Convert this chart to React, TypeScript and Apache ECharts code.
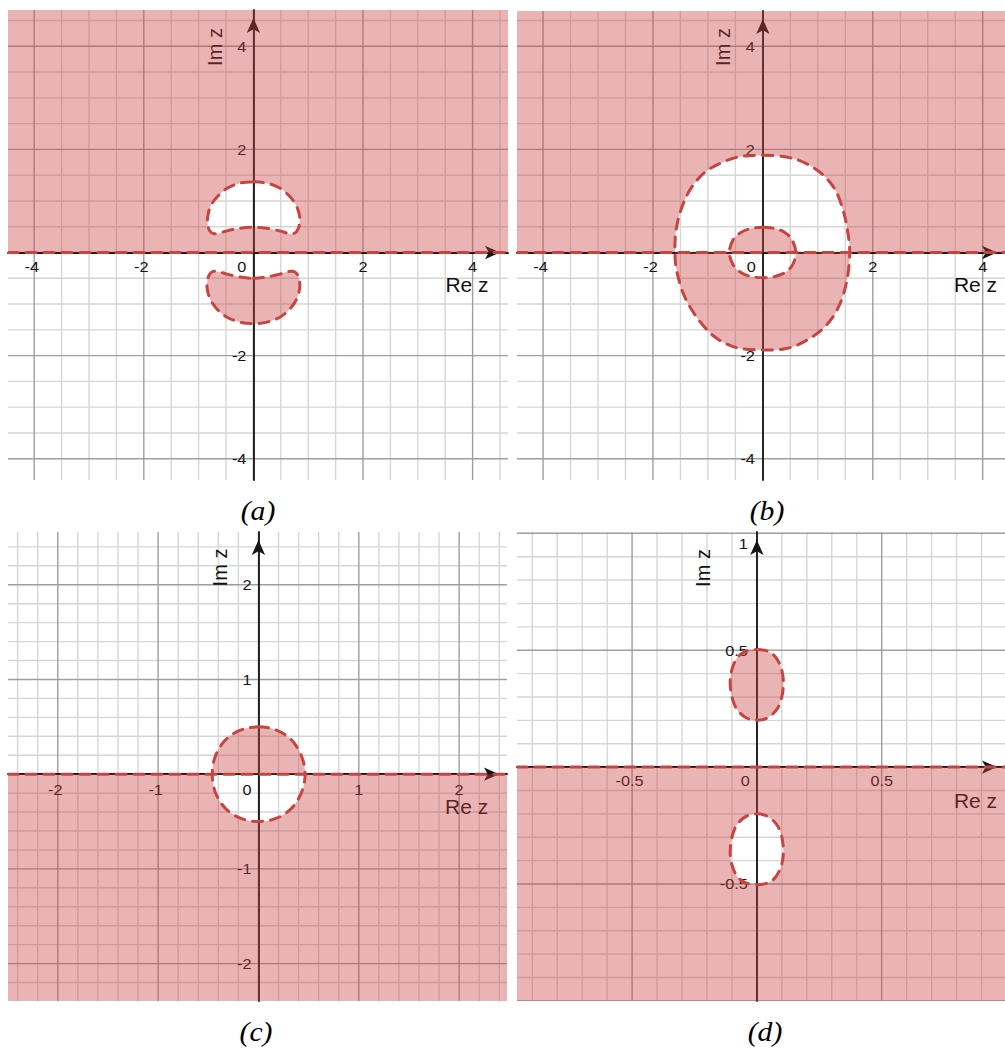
import React, { useEffect, useRef } from 'react';
import * as echarts from 'echarts';

// ---------- axis ranges ----------
const X_RANGE_A = [-4.478, 4.646];
const Y_RANGE_A = [-4.413, 4.704];
const X_RANGE_B = [-4.474, 4.406];
const Y_RANGE_B = [-4.413, 4.685];
const X_RANGE_C = [-2.496, 2.477];
const Y_RANGE_C = [-2.395, 2.557];
const X_RANGE_D = [-0.961, 0.994];
const Y_RANGE_D = [-1.0004, 1.0056];

// ---------- tick labels ----------
const X_TICKS_AB = [-4, -2, 0, 2, 4];
const Y_TICKS_AB = [-4, -2, 2, 4];
const X_TICKS_C = [-2, -1, 0, 1, 2];
const Y_TICKS_C = [-2, -1, 1, 2];
const X_TICKS_D = [-0.5, 0, 0.5];
const Y_TICKS_D = [-0.5, 0.5, 1];

// ---------- grid lines ----------
const MAJOR_AB = [-4, -2, 0, 2, 4];
const MINOR_AB = [-4.5, -3.5, -3, -2.5, -1.5, -1, -0.5, 0.5, 1, 1.5, 2.5, 3, 3.5, 4.5];
const MAJOR_C = [-2, -1, 0, 1, 2];
const MINOR_C = [-2.4, -2.2, -1.8, -1.6, -1.4, -1.2, -0.8, -0.6, -0.4, -0.2, 0.2, 0.4, 0.6, 0.8, 1.2, 1.4, 1.6, 1.8, 2.2, 2.4];
const MAJOR_D = [-1, -0.5, 0, 0.5, 1];
const MINOR_D = [-0.9, -0.8, -0.7, -0.6, -0.4, -0.3, -0.2, -0.1, 0.1, 0.2, 0.3, 0.4, 0.6, 0.7, 0.8, 0.9];

// ---------- boundary curves (Re z, Im z) ----------
const A_UPPER_HOLE = [
  [0, 1.37], [0.25, 1.345], [0.49, 1.245], [0.67, 1.08], [0.79, 0.89], [0.845, 0.69], [0.835, 0.52],
  [0.79, 0.41], [0.72, 0.365], [0.62, 0.375], [0.48, 0.42], [0.24, 0.47], [0, 0.49], [-0.24, 0.47],
  [-0.48, 0.42], [-0.62, 0.375], [-0.72, 0.365], [-0.79, 0.41], [-0.83, 0.52], [-0.835, 0.69],
  [-0.78, 0.9], [-0.66, 1.08], [-0.48, 1.245], [-0.25, 1.345],
];
const A_LOWER_LOBE = [
  [0, -0.5], [0.24, -0.475], [0.48, -0.42], [0.62, -0.375], [0.72, -0.365], [0.79, -0.41], [0.835, -0.52],
  [0.845, -0.69], [0.79, -0.9], [0.67, -1.09], [0.49, -1.25], [0.25, -1.35], [0, -1.38], [-0.25, -1.35],
  [-0.49, -1.25], [-0.67, -1.09], [-0.79, -0.9], [-0.845, -0.69], [-0.835, -0.52], [-0.79, -0.41],
  [-0.72, -0.365], [-0.62, -0.375], [-0.48, -0.42], [-0.24, -0.475],
];
const B_OUTER = [
  [0, 1.885], [0.46, 1.845], [0.8, 1.72], [1.1, 1.5], [1.32, 1.21], [1.46, 0.82], [1.54, 0.43], [1.58, 0],
  [1.53, -0.54], [1.38, -1.05], [1.13, -1.44], [0.8, -1.7], [0.44, -1.86], [0, -1.89], [-0.5, -1.84],
  [-0.92, -1.6], [-1.24, -1.2], [-1.45, -0.79], [-1.57, -0.34], [-1.6, 0.01], [-1.58, 0.43],
  [-1.48, 0.86], [-1.3, 1.26], [-1.0, 1.6], [-0.5, 1.84],
];
const B_INNER = [
  [0, 0.49], [0.22, 0.465], [0.4, 0.39], [0.53, 0.25], [0.6, 0], [0.54, -0.24], [0.4, -0.39], [0.22, -0.465],
  [0, -0.49], [-0.22, -0.465], [-0.4, -0.39], [-0.54, -0.24], [-0.61, 0], [-0.54, 0.25], [-0.4, 0.39], [-0.22, 0.465],
];
const C_CIRCLE = [
  [0, 0.5], [0.18, 0.465], [0.33, 0.36], [0.43, 0.19], [0.465, 0], [0.43, -0.19], [0.33, -0.36], [0.18, -0.465],
  [0, -0.5], [-0.18, -0.465], [-0.33, -0.36], [-0.43, -0.19], [-0.46, 0], [-0.43, 0.19], [-0.33, 0.36], [-0.18, 0.465],
];
const D_UPPER_LOBE = [
  [0, 0.503], [0.045, 0.495], [0.075, 0.47], [0.097, 0.425], [0.106, 0.37], [0.101, 0.305], [0.082, 0.25],
  [0.045, 0.212], [0, 0.2], [-0.045, 0.212], [-0.082, 0.25], [-0.101, 0.305], [-0.107, 0.37], [-0.098, 0.425],
  [-0.077, 0.47], [-0.045, 0.495],
];
const D_LOWER_HOLE = [
  [0, -0.2], [0.045, -0.212], [0.082, -0.25], [0.101, -0.305], [0.106, -0.37], [0.097, -0.425], [0.075, -0.47],
  [0.045, -0.495], [0, -0.503], [-0.045, -0.495], [-0.077, -0.47], [-0.098, -0.425], [-0.107, -0.37],
  [-0.101, -0.305], [-0.082, -0.25], [-0.045, -0.212],
];

// shaded half plane: 1 = upper, -1 = lower
const HALF_A = 1;
const HALF_B = 1;
const HALF_C = -1;
const HALF_D = -1;

// ---------- styles ----------
const FONT = "'Liberation Sans', Arial, sans-serif";
const SERIF = "'Liberation Serif', 'Times New Roman', serif";
const FILL = 'rgba(199,68,64,0.4)';
const RED = '#c74440';
const AXIS = '#151515';
const LABEL = '#141414';
const MAJOR_COLOR = '#9e9e9e';
const MINOR_COLOR = '#d6d6d6';

type Panel = {
  rect: any; xr: number[]; yr: number[]; xt: number[]; yt: number[];
  major: number[]; minor: number[]; half: number; rings: [number[][], number][];
  re: number[]; im: number[]; cap: [string, number, number]; xMargin: number; yMargin: number;
};

const PANELS: Panel[] = [
  { rect: { left: 8, top: 10, width: 500, height: 470 }, xr: X_RANGE_A, yr: Y_RANGE_A, xt: X_TICKS_AB, yt: Y_TICKS_AB,
    major: MAJOR_AB, minor: MINOR_AB, half: HALF_A, rings: [[A_UPPER_HOLE, -1], [A_LOWER_LOBE, 1]],
    re: [467, 285], im: [215, 47], cap: ['(a)', 258, 510.5], xMargin: 6, yMargin: 7 },
  { rect: { left: 517, top: 11, width: 488, height: 469 }, xr: X_RANGE_B, yr: Y_RANGE_B, xt: X_TICKS_AB, yt: Y_TICKS_AB,
    major: MAJOR_AB, minor: MINOR_AB, half: HALF_B, rings: [[B_OUTER, -1], [B_INNER, 1]],
    re: [975.5, 285], im: [723.3, 47], cap: ['(b)', 767, 510.5], xMargin: 6, yMargin: 8 },
  { rect: { left: 8, top: 532, width: 499, height: 469 }, xr: X_RANGE_C, yr: Y_RANGE_C, xt: X_TICKS_C, yt: Y_TICKS_C,
    major: MAJOR_C, minor: MINOR_C, half: HALF_C, rings: [[C_CIRCLE, -1]],
    re: [466.7, 807], im: [220.3, 567.5], cap: ['(c)', 256, 1031], xMargin: 7, yMargin: 7 },
  { rect: { left: 517, top: 532, width: 488, height: 469 }, xr: X_RANGE_D, yr: Y_RANGE_D, xt: X_TICKS_D, yt: Y_TICKS_D,
    major: MAJOR_D, minor: MINOR_D, half: HALF_D, rings: [[D_UPPER_LOBE, 1], [D_LOWER_HOLE, -1]],
    re: [975.5, 800.3], im: [703.3, 568], cap: ['(d)', 765, 1031], xMargin: 6, yMargin: 9 },
];

// ---------- geometry helpers ----------
const fmt = (p: number[]) => p[0].toFixed(2) + ',' + p[1].toFixed(2);

function signedArea(px: number[][]): number {
  let s = 0;
  for (let i = 0; i < px.length; i++) {
    const a = px[i], b = px[(i + 1) % px.length];
    s += a[0] * b[1] - b[0] * a[1];
  }
  return s / 2;
}
function orient(px: number[][], sign: number): number[][] {
  return Math.sign(signedArea(px)) === sign ? px : px.slice().reverse();
}
function polyPath(px: number[][]): string {
  return 'M' + px.map(fmt).join(' L') + ' Z';
}
function smoothPath(px: number[][]): string {
  const n = px.length;
  let d = 'M' + fmt(px[0]);
  for (let i = 0; i < n; i++) {
    const p0 = px[(i - 1 + n) % n], p1 = px[i], p2 = px[(i + 1) % n], p3 = px[(i + 2) % n];
    const c1 = [p1[0] + (p2[0] - p0[0]) / 6, p1[1] + (p2[1] - p0[1]) / 6];
    const c2 = [p2[0] - (p3[0] - p1[0]) / 6, p2[1] - (p3[1] - p1[1]) / 6];
    d += ' C' + fmt(c1) + ' ' + fmt(c2) + ' ' + fmt(p2);
  }
  return d + ' Z';
}

const inside = (v: number, r: number[]) => v >= r[0] && v <= r[1];

// grid lines (below the shading)
function gridRender(p: Panel) {
  return (_params: any, api: any) => {
    const [x0, x1] = p.xr, [y0, y1] = p.yr;
    const children: any[] = [];
    const add = (vals: number[], color: string) => {
      vals.forEach((v) => {
        if (inside(v, p.xr)) {
          const a = api.coord([v, y0]), b = api.coord([v, y1]);
          children.push({ type: 'line', shape: { x1: a[0], y1: a[1], x2: b[0], y2: b[1] }, style: { stroke: color, lineWidth: 1.4 } });
        }
        if (inside(v, p.yr)) {
          const c = api.coord([x0, v]), d = api.coord([x1, v]);
          children.push({ type: 'line', shape: { x1: c[0], y1: c[1], x2: d[0], y2: d[1] }, style: { stroke: color, lineWidth: 1.4 } });
        }
      });
    };
    add(p.minor, MINOR_COLOR);
    add(p.major, MAJOR_COLOR);
    return { type: 'group', children };
  };
}

// shaded region with holes (nonzero winding) + dashed red boundaries
function regionRender(p: Panel) {
  return (_params: any, api: any) => {
    const [x0, x1] = p.xr, [y0, y1] = p.yr;
    const toPx = (q: number[]) => api.coord(q);
    const rect = p.half > 0
      ? [[x0 - 1, 0], [x1 + 1, 0], [x1 + 1, y1 + 1], [x0 - 1, y1 + 1]]
      : [[x0 - 1, y0 - 1], [x1 + 1, y0 - 1], [x1 + 1, 0], [x0 - 1, 0]];
    let d = polyPath(orient(rect.map(toPx), 1));
    p.rings.forEach(([pts, sign]) => { d += ' ' + smoothPath(orient(pts.map(toPx), sign)); });
    const dash = { stroke: RED, lineWidth: 3, lineDash: [10, 8], lineCap: 'round', fill: 'none' };
    const children: any[] = [{ type: 'path', shape: { pathData: d }, style: { fill: FILL } }];
    p.rings.forEach(([pts]) => {
      children.push({ type: 'path', shape: { pathData: smoothPath(pts.map(toPx)) }, style: { ...dash } });
    });
    const a = api.coord([x0, 0]), b = api.coord([x1, 0]);
    children.push({ type: 'line', shape: { x1: a[0], y1: a[1], x2: b[0], y2: b[1] }, style: { ...dash } });
    return { type: 'group', children };
  };
}

function axisOpt(p: Panel, i: number, isX: boolean) {
  const r = isX ? p.xr : p.yr;
  return {
    gridIndex: i, type: 'value', min: r[0], max: r[1], z: 2,
    axisLine: { onZero: true, lineStyle: { color: AXIS, width: 1.8 }, symbol: ['none', 'arrow'], symbolSize: [10, 15], symbolOffset: [0, -8] },
    axisTick: { show: false }, splitLine: { show: false }, minorSplitLine: { show: false },
    axisLabel: { show: false },
  };
}

function txt(x: number, y: number, text: string, size: number, family: string, align: string, vAlign: string, extra: any = {}, styleExtra: any = {}) {
  return {
    type: 'text', x, y, z: 2, ...extra,
    style: { text, fontSize: size, fontFamily: family, fill: '#111', align, verticalAlign: vAlign, textAlign: align, textVerticalAlign: vAlign, ...styleExtra },
  };
}

export default function App() {
  const ref = useRef<HTMLDivElement>(null);
  useEffect(() => {
    if (!ref.current) return;
    const chart = echarts.init(ref.current, undefined, { renderer: 'svg' });
    const option: any = {
      animation: false,
      grid: PANELS.map((p) => ({ ...p.rect, containLabel: false, outerBoundsMode: 'none' })),
      xAxis: PANELS.map((p, i) => axisOpt(p, i, true)),
      yAxis: PANELS.map((p, i) => axisOpt(p, i, false)),
      series: [
        ...PANELS.map((p, i) => ({ type: 'custom', xAxisIndex: i, yAxisIndex: i, z: 1, clip: true, silent: true, data: [[0, 0]], renderItem: gridRender(p) })),
        ...PANELS.map((p, i) => ({ type: 'custom', xAxisIndex: i, yAxisIndex: i, z: 3, clip: true, silent: true, data: [[0, 0]], renderItem: regionRender(p) })),
      ],
    };
    chart.setOption(option);

    // texts: tick labels positioned through the axes' scales, axis names, captions
    const texts: any[] = [];
    PANELS.forEach((p, i) => {
      p.xt.forEach((v) => {
        const q = chart.convertToPixel({ gridIndex: i }, [v, 0]) as number[];
        const dx = v === 0 ? -11.5 : v < 0 ? -2.5 : 0;
        texts.push(txt(q[0] + dx, q[1] + p.xMargin, String(v), 15.5, FONT, 'center', 'top', { scaleX: 1.05 }, { fill: LABEL }));
      });
      p.yt.forEach((v) => {
        const q = chart.convertToPixel({ gridIndex: i }, [0, v]) as number[];
        const dy = q[1] < p.rect.top + 6 ? 10 : 0;
        texts.push(txt(q[0] - p.yMargin, q[1] + dy, String(v), 15.5, FONT, 'right', 'middle', { scaleX: 1.05 }, { fill: LABEL }));
      });
      texts.push(txt(p.re[0], p.re[1], 'Re z', 20, FONT, 'center', 'middle', { scaleX: 1.05 }));
      texts.push(txt(p.im[0], p.im[1], 'Im z', 20, FONT, 'center', 'middle', { rotation: Math.PI / 2 }));
      texts.push(txt(p.cap[1], p.cap[2], p.cap[0], 28, SERIF, 'center', 'middle', { z: 10, scaleX: 1.06 }, { fontStyle: 'italic', fill: '#000' }));
    });
    chart.setOption({ graphic: { elements: texts } });
    return () => chart.dispose();
  }, []);
  return <div ref={ref} style={{ position: 'absolute', left: 0, top: 0, width: 1005, height: 1053, background: '#fff' }} />;
}
